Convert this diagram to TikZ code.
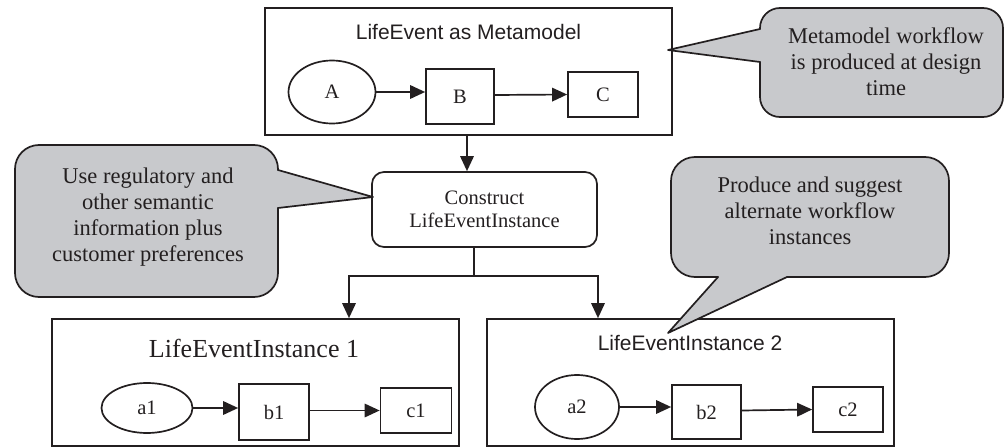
\documentclass[tikz,border=0pt]{standalone}
\usepackage{fontspec}
\setmainfont{Liberation Serif}
\newfontfamily\arialfont{Liberation Sans}
\usetikzlibrary{shapes.geometric,arrows.meta}
\definecolor{ink}{RGB}{35,31,32}
\definecolor{cgray}{RGB}{200,201,204}
\begin{document}
\begin{tikzpicture}[x=1pt,y=-1pt,line width=1.7pt,draw=ink,
  container/.style={draw, minimum width=407pt, minimum height=127pt, inner sep=0pt},
  stepbox/.style={draw, rectangle, inner sep=0pt, text=ink, font=\fontsize{20.5}{24}\selectfont},
  oval/.style={draw, ellipse, inner sep=0pt, text=ink, font=\fontsize{20.5}{24}\selectfont},
  arr/.style={-{Triangle[length=15pt,width=13.5pt]}},
  cfill/.style={fill=cgray},
  cline/.style={draw=ink, line join=round, line cap=round},
  ctext/.style={align=center, text=ink, font=\fontsize{22.5}{26}\selectfont},
  serifttl/.style={text=ink, font=\fontsize{26}{30}\selectfont},
  sansttl/.style={text=ink, font=\arialfont\fontsize{21}{25}\selectfont}]
\useasboundingbox (0,0) rectangle (1005,447);

% containers
\node[container] (top) at (468.5,71.5) {};
\node[container] (box1) at (255.5,382.5) {};
\node[container] (box2) at (690.5,382.5) {};

% titles
\node[sansttl, anchor=base] (ttop) at (468.5,39) {LifeEvent as Metamodel};
\node[serifttl, anchor=base] (tb1) at (254,357) {LifeEventInstance 1};
\node[sansttl, anchor=base] (tb2) at (690,350) {LifeEventInstance 2};

% top workflow
\node[oval, minimum width=87pt, minimum height=63pt] (A) at (332,92) {A};
\node[stepbox, minimum width=68pt, minimum height=55pt] (B) at (460,96.5) {B};
\node[stepbox, minimum width=70pt, minimum height=45pt] (C) at (603,94.5) {C};
\draw[arr] (A.east) -- (A.east -| B.west);
\draw[arr] ([yshift=1.5pt]B.east) -- (C.west);

% instance 1
\node[oval, minimum width=91pt, minimum height=50pt] (a1) at (147,408) {a1};
\node[stepbox, minimum width=70pt, minimum height=56pt] (b1) at (274,412) {b1};
\node[stepbox, minimum width=71pt, minimum height=45pt] (c1) at (416,410.5) {c1};
\draw[arr] (a1.east) -- (a1.east -| b1.west);
\draw[arr] ([yshift=1.5pt]b1.east) -- (c1.west);

% instance 2
\node[oval, minimum width=84pt, minimum height=64pt] (a2) at (577,407) {a2};
\node[stepbox, minimum width=69pt, minimum height=54pt] (b2) at (706.5,412) {b2};
\node[stepbox, minimum width=70pt, minimum height=45pt] (c2) at (848,409.5) {c2};
\draw[arr] (a2.east) -- (a2.east -| b2.west);
\draw[arr] ([yshift=1.5pt]b2.east) -- (c2.west);

% construct
\node[draw, rounded corners=12pt, minimum width=225pt, minimum height=75pt, inner sep=0pt,
      align=center, text=ink, font=\fontsize{20.5}{23.5}\selectfont] (cons) at (484.5,209.5)
      {Construct\\LifeEventInstance};

\coordinate (tx) at (467,0);
\coordinate (jn) at (474,276);
\coordinate (jl) at (349,276);
\coordinate (jr) at (598,276);
\draw[arr] (top.south -| tx) -- (cons.north -| tx);
\draw (cons.south -| jn) -- (jn);
\draw[arr] (jn) -| (box1.north -| jl);
\draw[arr] (jn) -| (box2.north -| jr);

% callout 1 (top right)
\fill[cfill, rounded corners=20pt] (760,8) rectangle (1003,117);
\fill[cfill] (760,29) -- (668,50) -- (760,62) -- cycle;
\draw[cline, rounded corners=20pt] (760,62) -- (760,117) -- (1003,117) -- (1003,8) -- (760,8) -- (760,29);
\draw[cline] (760,29) -- (668,50) -- (760,62);
\node[ctext] (n1) at (886,62) {Metamodel workflow\\is produced at design\\time};

% callout 2 (left)
\fill[cfill, rounded corners=24pt] (15,145) rectangle (278,297);
\fill[cfill] (278,170) -- (373,197) -- (278,208) -- cycle;
\draw[cline, rounded corners=24pt] (278,208) -- (278,297) -- (15,297) -- (15,145) -- (278,145) -- (278,170);
\draw[cline] (278,170) -- (373,197) -- (278,208);
\node[ctext] (n2) at (148,217) {Use regulatory and\\other semantic\\information plus\\customer preferences};

% callout 3 (right middle)
\fill[cfill, rounded corners=24pt] (671,157) rectangle (949,277);
\fill[cfill] (718,277) -- (668,333) -- (787,277) -- cycle;
\draw[cline, rounded corners=24pt] (718,277) -- (671,277) -- (671,157) -- (949,157) -- (949,277) -- (787,277);
\draw[cline] (787,277) -- (668,333) -- (718,277);
\node[ctext] (n3) at (810,211) {Produce and suggest\\alternate workflow\\instances};
\end{tikzpicture}
\end{document}
